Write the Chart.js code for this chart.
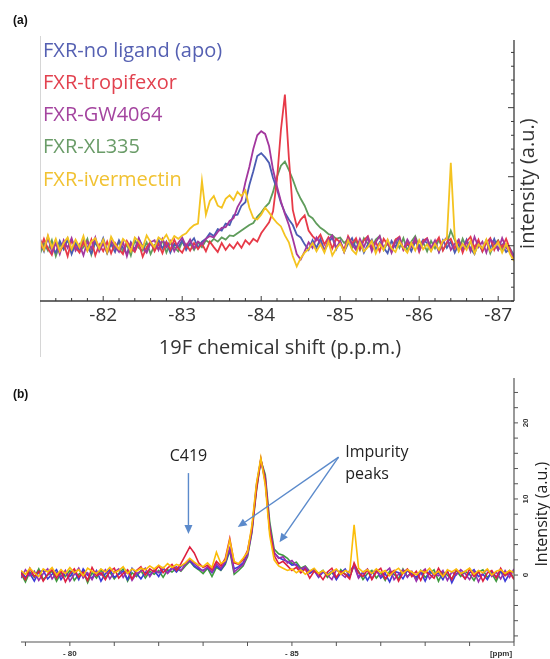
<!DOCTYPE html>
<html>
<head>
<meta charset="utf-8">
<script src="https://cdn.jsdelivr.net/npm/chart.js@4/dist/chart.umd.min.js"></script>
<style>
  body { margin: 0; background: #fff; width: 550px; height: 659px; overflow: hidden; position: relative; }
  #wrapA { position: absolute; left: 0; top: 0; width: 550px; height: 365px; }
  #wrapB { position: absolute; left: 0; top: 365px; width: 550px; height: 294px; }
</style>
</head>
<body>
<div id="wrapA"><canvas id="chartA"></canvas></div>
<div id="wrapB"><canvas id="chartB"></canvas></div>
<script>
// ---------- Panel (a): 19F spectra, sampled every 0.05 ppm from -81.2 ----------
const ppmStartA = -81.2, ppmStepA = -0.05;
const legendA = ['FXR-no ligand (apo)', 'FXR-tropifexor', 'FXR-GW4064', 'FXR-XL335', 'FXR-ivermectin'];
const xTicksA = [-82, -83, -84, -85, -86, -87];
const yTicksA = [0, 100, 200, 300];

const apoA = [5,-8,12,-3,-10,7,-5,10,-12,3, -6,9,-2,-11,6,-4,11,-7,2,-9, 8,-3,-12,5,-6,10,-1,-8,4,-5,
  9,-4,6,-10,3,-2,8,-6,4,11, -3,6,10,18,14,24,22,32,30,44, 45,58,63,88,108,130,134,128,120,98,
  82,62,48,38,30,16,12,2,-6,8, -3,10,-7,4,12,-5,7,-9,3,11, -4,6,-10,2,9,-6,5,-3,-11,7,
  -2,10,-5,3,-8,6,-1,9,4,-7, 5,-9,8,-3,6,-10,2,-6,9,-4, -12,5,-8,7,-3,10,-6,2,-9,-4,-14];
const tropA = [-6,10,-4,-13,6,-9,3,-15,8,-2, -10,5,-7,9,-14,2,-8,6,-11,4, -5,-12,7,-3,-9,4,-16,-2,6,-8,
  3,-11,5,-6,9,-4,-10,2,-7,4, -5,3,-8,6,-2,-9,4,-6,2,-4, 5,-3,8,2,10,6,18,26,34,50,
  96,168,219,128,52,28,38,44,22,14, 8,16,2,12,-4,10,5,-6,14,3, 11,-5,8,14,-3,6,-8,10,2,-4,
  9,13,-6,4,-2,10,-9,7,11,-5, 3,12,-7,5,10,-4,8,-10,6,13, -3,9,-8,4,11,-6,7,-2,10,-5,-20];
const gwA = [10,-5,13,-9,4,-12,8,-3,11,-7, 2,-14,6,-4,12,-8,3,-10,7,-1, -9,6,-15,4,-6,11,-3,-10,5,8,
  -6,10,-2,7,-8,4,12,-1,9,-4, 6,2,10,14,12,20,26,27,36,40, 56,66,92,114,140,160,166,162,144,110,
  86,64,46,30,10,-12,-20,-8,5,-3, 12,3,-7,9,15,-3,6,-9,11,2, -6,10,-2,12,-8,5,14,-4,8,-10,
  6,12,-5,9,-1,11,-7,4,10,-3, 8,-9,5,12,-6,3,9,-5,7,-8, 13,-2,6,-10,9,4,-6,11,-3,-9,-16];
const xlA = [-12,4,-7,8,-15,2,-5,9,-10,6, -8,-2,10,-13,5,-6,7,-11,3,-4, 6,-9,2,-14,8,-3,-7,5,-12,1,
  -5,8,-10,4,-2,-8,6,-4,3,-6, 5,-2,8,4,10,6,12,9,15,14, 18,22,26,30,33,42,48,56,62,78,
  100,116,122,110,96,80,68,58,44,40, 32,26,22,17,15,10,12,4,9,-3, 8,-6,11,3,-4,9,14,-6,4,-9,
  8,-3,11,-7,6,14,-2,5,-8,7, -4,9,-6,3,22,8,-7,10,-3,6, -9,4,-5,8,-11,3,8,-7,2,-9,-15];
const iverA = [8,-6,15,-3,10,-8,4,12,-5,9, -2,14,-7,6,11,-4,9,-9,13,2, -5,10,4,-8,12,6,-3,15,5,-2,
  12,8,16,4,14,10,15,18,25,30, 32,94,45,65,72,58,55,68,73,66, 78,72,80,55,40,38,45,55,48,40,
  33,28,15,5,-15,-30,-18,-10,-5,4, -8,2,-10,6,-14,-4,3,-9,8,-6, -12,5,-8,-2,7,-11,3,-6,9,-4,
  -9,6,-3,-10,4,-7,8,-5,2,-8, 3,-6,7,10,120,12,-8,3,-6,7, -11,2,-4,9,-8,-2,5,-10,3,-12,-22];

// ---------- Panel (b): spectra, sampled every 0.1 ppm from -78.9 ----------
const ppmStartB = -78.9, ppmStepB = -0.1;
const xTicksB = [-79, -80, -81, -82, -83, -84, -85, -86, -87, -88, -89, -90];
const xLabelsB = [[-80, '- 80'], [-85, '- 85']];
const yLabelsB = [0, 10, 20];

const redB = [0.3,-0.6,0.9,-0.2,0.5,-0.8,0.1,0.7,-0.4,0.6, -0.9,0.2,0.8,-0.3,0.4,-0.7,1.0,-0.1,0.3,-0.6,
  0.5,0.9,-0.4,0.2,0.7,-0.5,0.6,1.1,0.0,0.8, 0.4,1.2,0.3,0.9,1.4,0.6,1.5,2.6,3.7,2.9,
  1.6,1.0,1.3,0.7,1.8,1.2,2.2,4.8,1.6,1.4, 2.0,3.2,6.2,11.2,15.3,12.4,5.8,2.6,1.5,1.8,
  1.2,0.6,1.0,0.3,0.8,-0.4,0.5,0.2,-0.6,0.4, 0.9,-0.3,0.5,0.1,-0.5,1.6,0.3,-0.2,0.7,-0.6,
  0.4,0.9,-0.5,0.2,0.6,-0.8,0.3,0.8,-0.2,0.5, -0.7,0.6,0.1,-0.4,0.9,-0.1,0.4,-0.6,0.7,0.2,
  -0.5,0.8,-0.2,0.5,-0.8,0.3,0.6,-0.4,0.9,-0.1, 0.4,-0.6];
const purpleB = [-0.4,0.7,-0.1,0.5,-0.7,0.2,0.8,-0.5,0.3,-0.2, 0.6,-0.8,0.1,0.9,-0.4,0.3,-0.6,0.5,0.0,0.7,
  -0.5,0.4,0.8,-0.3,0.6,-0.7,0.2,0.5,0.9,-0.2, 0.7,0.3,1.0,0.2,0.8,1.1,0.6,1.4,2.0,1.5,
  1.0,0.5,1.1,0.4,1.5,0.9,1.8,3.5,0.4,0.9, 1.4,2.6,5.8,11.5,15.0,12.8,6.4,3.0,2.2,2.4,
  1.6,1.9,1.2,0.8,1.1,0.4,0.7,-0.2,0.5,0.0, -0.6,0.7,0.2,-0.3,0.6,1.2,-0.4,0.3,0.8,-0.5,
  0.6,-0.2,0.4,0.9,-0.6,0.1,0.7,-0.3,0.5,-0.8, 0.3,0.8,-0.5,0.2,-0.1,0.6,-0.7,0.4,0.0,0.7,
  0.2,-0.6,0.5,-0.9,0.3,0.7,-0.2,0.4,-0.5,0.6, -0.3,0.8];
const greenB = [0.2,-0.9,0.4,-0.3,0.8,-0.6,0.0,0.5,-0.8,0.3, -0.2,0.6,-0.7,0.1,0.5,-1.0,0.3,-0.4,0.7,-0.3,
  0.4,-0.5,0.2,0.8,-0.8,0.3,-0.2,0.6,-0.4,0.5, 0.1,0.6,-0.3,0.7,0.4,0.9,0.5,1.2,1.8,1.1,
  0.7,0.2,0.9,-0.2,1.0,0.6,1.4,3.2,0.1,0.6, 1.2,2.4,5.6,11.0,15.1,13.2,7.0,3.4,2.8,2.6,
  2.2,1.5,1.7,0.9,1.2,0.5,0.8,0.2,0.6,-0.3, 0.4,-0.5,0.7,0.1,-0.2,1.3,0.5,-0.6,0.2,0.6,
  -0.4,0.3,-0.7,0.5,0.1,-0.5,0.8,-0.2,0.4,-0.6, 0.6,-0.3,0.2,0.7,-0.8,0.4,0.0,-0.5,0.6,-0.2,
  0.5,0.1,-0.7,0.4,0.7,-0.3,0.2,-0.8,0.5,0.0, 0.6,-0.5];
const blueB = [0.5,-0.3,0.2,-0.8,0.4,0.6,-0.5,0.1,0.7,-0.6, 0.3,-0.2,0.5,-0.6,0.8,0.0,-0.4,0.6,-0.8,0.2,
  0.7,-0.3,0.1,0.5,-0.6,0.9,0.2,-0.5,0.4,0.0, 0.6,-0.2,0.8,0.3,1.0,0.4,1.1,1.5,1.9,1.2,
  0.8,0.6,1.0,0.3,1.2,0.7,1.6,3.4,0.8,1.1, 1.6,2.8,6.0,11.8,15.2,12.2,6.0,2.9,2.3,2.0,
  1.8,1.3,1.4,0.6,0.9,0.2,0.6,-0.3,0.4,0.1, 0.5,-0.6,0.3,0.8,-0.2,1.4,-0.3,0.4,-0.7,0.3,
  0.7,-0.4,0.2,-0.9,0.5,0.3,-0.5,0.6,0.1,-0.3, 0.4,-0.8,0.5,0.0,0.3,-0.6,0.6,-1.0,0.2,0.4,
  -0.5,0.3,0.7,-0.2,0.1,-0.6,0.5,-0.3,0.6,-0.8, 0.2,0.5];
const yellowB = [0.6,0.1,0.9,0.3,-0.2,0.8,0.4,1.0,0.0,0.7, 0.2,1.0,0.3,0.7,-0.1,0.9,0.5,0.2,0.8,0.4,
  1.0,0.3,0.6,1.1,0.2,0.8,0.5,0.9,0.7,1.2, 0.8,1.3,0.9,1.5,1.0,1.4,1.2,1.6,2.2,1.7,
  1.3,1.1,1.6,1.0,3.0,1.5,1.9,4.6,1.8,1.5, 2.2,3.0,6.6,12.0,15.4,11.8,5.2,2.0,1.2,0.9,
  0.6,0.8,0.3,0.7,0.1,0.5,0.9,0.2,0.6,0.0, 0.4,0.8,0.1,0.6,0.3,6.6,0.9,0.4,0.7,0.2,
  0.8,0.3,0.6,-0.1,0.5,0.9,0.2,0.7,0.4,0.0, 0.6,0.3,0.9,0.1,0.5,-0.2,0.7,0.4,0.8,0.2,
  0.5,0.9,0.1,0.6,0.3,0.8,0.0,0.5,0.7,0.2, 0.6,0.3];

function toPoints(vals, start, step) {
  return vals.map((v, i) => ({ x: start + step * i, y: v }));
}

function lineSet(label, vals, start, step, color, order, width) {
  return {
    label: label,
    data: toPoints(vals, start, step),
    borderColor: color,
    borderWidth: width,
    pointRadius: 0,
    tension: 0,
    fill: false,
    order: order
  };
}

// ---------- drawing helpers ----------
function line(ctx, x1, y1, x2, y2) {
  ctx.beginPath(); ctx.moveTo(x1, y1); ctx.lineTo(x2, y2); ctx.stroke();
}

function arrow(ctx, x1, y1, x2, y2) {
  const ang = Math.atan2(y2 - y1, x2 - x1), head = 9;
  const bx = x2 - head * Math.cos(ang), by = y2 - head * Math.sin(ang);
  line(ctx, x1, y1, bx, by);
  ctx.beginPath();
  ctx.moveTo(x2, y2);
  ctx.lineTo(bx + 4 * Math.sin(ang), by - 4 * Math.cos(ang));
  ctx.lineTo(bx - 4 * Math.sin(ang), by + 4 * Math.cos(ang));
  ctx.closePath();
  ctx.fill();
}

const axesA = {
  id: 'axesA',
  afterDraw(chart) {
    const { ctx, chartArea: a, scales: { x, y } } = chart;
    ctx.save();
    // faint frame line on the left
    ctx.strokeStyle = '#d6d6d6'; ctx.lineWidth = 1;
    line(ctx, a.left + 0.5, a.top - 4, a.left + 0.5, a.bottom + 56);
    // axis lines
    ctx.strokeStyle = '#3a3a3a'; ctx.lineWidth = 1.3;
    line(ctx, a.left, a.bottom, a.right, a.bottom);
    line(ctx, a.right, a.top, a.right, a.bottom);
    ctx.lineWidth = 1;
    // bottom ticks, pointing inside
    for (let v = -81.4; v >= -87.2; v -= 0.2) {
      const px = x.getPixelForValue(v);
      const major = xTicksA.some(t => Math.abs(t - v) < 0.01);
      line(ctx, px, a.bottom, px, a.bottom - (major ? 5 : 3));
    }
    // right ticks, pointing inside
    for (let v = -80; v <= 300; v += 20) {
      const py = y.getPixelForValue(v);
      if (py < a.top - 1) continue;
      const major = yTicksA.includes(v);
      line(ctx, a.right, py, a.right - (major ? 6 : 3), py);
    }
    // tick labels
    ctx.fillStyle = '#333';
    ctx.font = '19px "Open Sans"';
    ctx.textAlign = 'center'; ctx.textBaseline = 'middle';
    xTicksA.forEach(t => ctx.fillText(String(t), x.getPixelForValue(t), a.bottom + 15));
    // axis titles
    ctx.font = '20px "Open Sans"';
    ctx.fillText('19F chemical shift (p.p.m.)', (a.left + a.right) / 2 + 3, a.bottom + 47);
    ctx.save();
    ctx.translate(a.right + 14, y.getPixelForValue(90));
    ctx.rotate(-Math.PI / 2);
    ctx.fillText('intensity (a.u.)', 0, 0);
    ctx.restore();
    // legend as coloured text
    ctx.textAlign = 'left';
    chart.data.datasets.forEach((ds, k) => {
      ctx.fillStyle = ds.textColor;
      ctx.fillText(legendA[k], a.left + 3, a.top + 11 + k * 32.2);
    });
    // panel label
    ctx.fillStyle = '#111';
    ctx.font = 'bold 12px "Liberation Sans"';
    ctx.fillText('(a)', 13, 21);
    ctx.restore();
  }
};

const axesB = {
  id: 'axesB',
  afterDraw(chart) {
    const { ctx, chartArea: a, scales: { x, y } } = chart;
    ctx.save();
    ctx.strokeStyle = '#555'; ctx.lineWidth = 1.2;
    line(ctx, a.left, a.bottom, a.right, a.bottom);
    line(ctx, a.right, a.top, a.right, a.bottom);
    ctx.lineWidth = 1;
    xTicksB.forEach(t => {
      const px = x.getPixelForValue(t);
      line(ctx, px, a.bottom, px, a.bottom + 4);
    });
    for (let v = -8; v <= 24; v += 2) {
      const py = y.getPixelForValue(v);
      line(ctx, a.right, py, a.right + 4, py);
    }
    ctx.fillStyle = '#333';
    ctx.font = 'bold 8px "Liberation Sans"';
    ctx.textAlign = 'center'; ctx.textBaseline = 'middle';
    xLabelsB.forEach(([v, s]) => ctx.fillText(s, x.getPixelForValue(v), a.bottom + 12));
    ctx.fillText('[ppm]', a.right - 13, a.bottom + 12);
    yLabelsB.forEach(v => {
      ctx.save();
      ctx.translate(a.right + 12, y.getPixelForValue(v));
      ctx.rotate(-Math.PI / 2);
      ctx.fillText(String(v), 0, 0);
      ctx.restore();
    });
    ctx.font = '16px "Open Sans"';
    ctx.fillStyle = '#222';
    ctx.save();
    ctx.translate(a.right + 28, y.getPixelForValue(8));
    ctx.rotate(-Math.PI / 2);
    ctx.fillText('Intensity (a.u.)', 0, 0);
    ctx.restore();
    // annotations
    ctx.font = '16px "Open Sans"';
    ctx.fillText('C419', x.getPixelForValue(-82.67), y.getPixelForValue(15.6));
    ctx.textAlign = 'left';
    ctx.fillText('Impurity', x.getPixelForValue(-86.2), y.getPixelForValue(16.1));
    ctx.fillText('peaks', x.getPixelForValue(-86.2), y.getPixelForValue(13.2));
    ctx.strokeStyle = '#5b8acb'; ctx.fillStyle = '#5b8acb'; ctx.lineWidth = 1.4;
    arrow(ctx, x.getPixelForValue(-82.67), y.getPixelForValue(13.4), x.getPixelForValue(-82.67), y.getPixelForValue(5.4));
    arrow(ctx, x.getPixelForValue(-86.05), y.getPixelForValue(15.5), x.getPixelForValue(-83.78), y.getPixelForValue(6.3));
    arrow(ctx, x.getPixelForValue(-86.05), y.getPixelForValue(15.5), x.getPixelForValue(-84.72), y.getPixelForValue(4.3));
    ctx.fillStyle = '#111';
    ctx.textAlign = 'left';
    ctx.font = 'bold 12px "Liberation Sans"';
    ctx.fillText('(b)', 13, 30);
    ctx.restore();
  }
};

const dsA = [
  lineSet(legendA[0], apoA, ppmStartA, ppmStepA, '#4b5cb3', 3, 1.8),
  lineSet(legendA[1], tropA, ppmStartA, ppmStepA, '#e73a48', 2, 1.8),
  lineSet(legendA[2], gwA, ppmStartA, ppmStepA, '#a3379e', 1, 1.8),
  lineSet(legendA[3], xlA, ppmStartA, ppmStepA, '#5f9c5b', 4, 1.8),
  lineSet(legendA[4], iverA, ppmStartA, ppmStepA, '#f4c320', 0, 1.8)
];
['#5560b2', '#e2424f', '#a4449f', '#6a9c68', '#f1c232'].forEach((c, k) => dsA[k].textColor = c);

new Chart(document.getElementById('chartA'), {
  type: 'line',
  data: { datasets: dsA },
  options: {
    responsive: true, maintainAspectRatio: false, animation: false,
    layout: { padding: { left: 40, right: 36, top: 40, bottom: 64 } },
    plugins: { legend: { display: false }, tooltip: { enabled: false } },
    scales: {
      x: { type: 'linear', reverse: true, min: -87.2, max: -81.2, display: false },
      y: { min: -80, max: 298, display: false }
    }
  },
  plugins: [axesA]
});

new Chart(document.getElementById('chartB'), {
  type: 'line',
  data: {
    datasets: [
      lineSet('green', greenB, ppmStartB, ppmStepB, '#3f9a3f', 4, 1.6),
      lineSet('blue', blueB, ppmStartB, ppmStepB, '#3b3bd8', 3, 1.6),
      lineSet('purple', purpleB, ppmStartB, ppmStepB, '#9a2fae', 2, 1.6),
      lineSet('red', redB, ppmStartB, ppmStepB, '#de2040', 1, 1.6),
      lineSet('yellow', yellowB, ppmStartB, ppmStepB, '#fbbd08', 0, 1.6)
    ]
  },
  options: {
    responsive: true, maintainAspectRatio: false, animation: false,
    layout: { padding: { left: 21, right: 36, top: 13, bottom: 17 } },
    plugins: { legend: { display: false }, tooltip: { enabled: false } },
    scales: {
      x: { type: 'linear', reverse: true, min: -90.0, max: -78.9, display: false },
      y: { min: -8.8, max: 25.9, display: false }
    }
  },
  plugins: [axesB]
});
</script>
</body>
</html>
